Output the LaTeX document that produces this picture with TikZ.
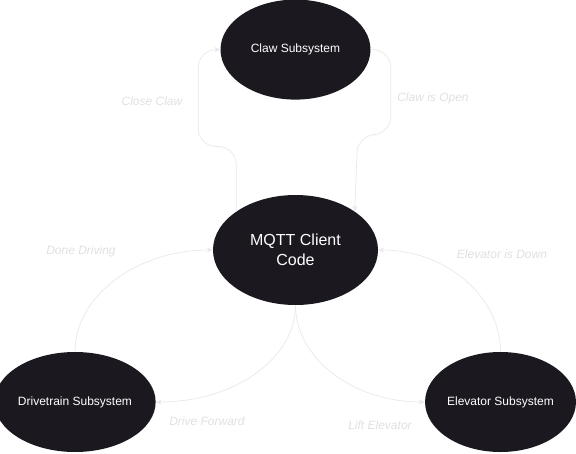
\documentclass[tikz,border=0pt]{standalone}
\usepackage{fontspec}
\setmainfont{Liberation Sans}
\usepackage{xcolor}
\usetikzlibrary{shapes.geometric, arrows.meta, positioning}
\definecolor{nodefill}{HTML}{1B1820}
\definecolor{flowgray}{HTML}{E8E8E8}
\definecolor{labelgray}{HTML}{E0E0E0}

\begin{document}
\begin{tikzpicture}[
    x=1pt, y=-1pt,
    subsys/.style={ellipse, fill=nodefill, text=white, inner sep=0pt, minimum width=150pt, minimum height=100pt, font=\fontsize{12}{14}\selectfont},
    flow/.style={draw=flowgray, line width=0.7pt, -{Stealth[length=6pt, width=5pt]}},
    flowlabel/.style={text=labelgray, font=\fontsize{12}{14}\selectfont\itshape}
]
\useasboundingbox (0,0) rectangle (576,453);

% Subsystems
\node[subsys, minimum width=165pt, minimum height=110pt, align=center, font=\fontsize{16}{20}\selectfont] (mqtt) at (295.5,250) {MQTT Client\\Code};
\node[subsys, above=95pt of mqtt] (claw) {Claw Subsystem};
\node[subsys] (drive) at (75,402) {Drivetrain Subsystem};
\node[subsys] (elev) at (500.5,402) {Elevator Subsystem};

% Claw messages
\draw[flow, rounded corners=18pt] (mqtt.147) -- ++(0,-65) -- ++(-38,0) |- (claw.west);
\draw[flow, rounded corners=18pt] (claw.east) -- ++(20,0) |- ++(-33,85) -- (mqtt.33);

% Drivetrain and elevator messages
\draw[flow] (drive.north) .. controls +(0,-56) and +(-76,0) .. (mqtt.west);
\draw[flow] (elev.north) .. controls +(0,-56) and +(67,0) .. (mqtt.east);
\draw[flow] (mqtt.south) .. controls +(0,53) and +(79,0) .. (drive.east);
\draw[flow] (mqtt.south) .. controls +(0,53) and +(-72,0) .. (elev.west);

% Labels
\node[flowlabel] (lclose) at (152,101) {Close Claw};
\node[flowlabel] (lopen) at (433,98) {Claw is Open};
\node[flowlabel] (ldone) at (81,251) {Done Driving};
\node[flowlabel] (ldown) at (502,254) {Elevator is Down};
\node[flowlabel] (lfwd) at (207,421) {Drive Forward};
\node[flowlabel] (llift) at (380,425) {Lift Elevator};
\end{tikzpicture}
\end{document}
